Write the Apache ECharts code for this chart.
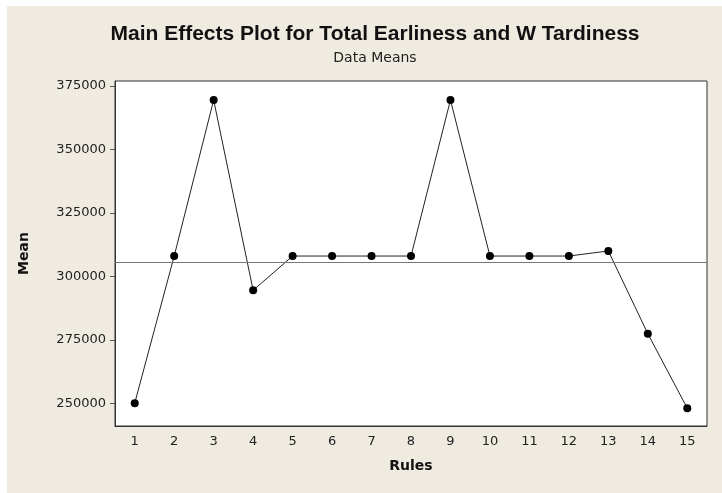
<html>
<head>
<meta charset="utf-8" />
<title>Main Effects Plot</title>
<script type="text/javascript" src="https://cdn.jsdelivr.net/npm/echarts@6/dist/echarts.min.js"></script>
<style>
	html, body {
		margin: 0;
		padding: 0;
		background: #efebe1;
		overflow: hidden;
	}
	#main {
		width: 722px;
		height: 493px;
	}
</style>
</head>
<body>
<div id="main"></div>
<script type="text/javascript">
	// rules 1..15 and their data means
	var rules = ['1', '2', '3', '4', '5', '6', '7', '8', '9', '10', '11', '12', '13', '14', '15'];
	var means = [250000, 308000, 369500, 294500, 308000, 308000, 308000, 308000, 369500, 308000, 308000, 308000, 310000, 277400, 248000];
	var yTicks = [250000, 275000, 300000, 325000, 350000, 375000];

	var chart = echarts.init(document.getElementById('main'));
	var option = {
		backgroundColor: '#efebe1',
		animation: false,
		graphic: [
			{ type: 'rect', left: 0, top: 0, shape: { width: 722, height: 6 }, style: { fill: '#ffffff' } },
			{ type: 'rect', left: 0, top: 0, shape: { width: 7, height: 493 }, style: { fill: '#ffffff' } }
		],
		title: {
			text: 'Main Effects Plot for Total Earliness and W Tardiness',
			subtext: 'Data Means',
			left: 370,
			textAlign: 'center',
			top: 19,
			itemGap: 6,
			textStyle: { fontFamily: 'Liberation Sans', fontWeight: 'bold', fontSize: 21, color: '#111' },
			subtextStyle: { fontFamily: 'DejaVu Sans', fontSize: 14, color: '#222' }
		},
		grid: {
			left: 115,
			right: 15,
			top: 81,
			bottom: 67,
			show: true,
			backgroundColor: '#ffffff',
			borderColor: '#333',
			borderWidth: 1
		},
		xAxis: {
			type: 'category',
			data: rules,
			boundaryGap: true,
			name: 'Rules',
			nameLocation: 'middle',
			nameGap: 33,
			nameTextStyle: { fontFamily: 'DejaVu Sans', fontWeight: 'bold', fontSize: 14, color: '#111' },
			axisLine: { lineStyle: { color: '#333' } },
			axisTick: { alignWithLabel: true, length: 5, lineStyle: { color: '#555' } },
			axisLabel: { fontFamily: 'DejaVu Sans', fontSize: 13, color: '#222', margin: 9 },
			splitLine: { show: false }
		},
		yAxis: {
			type: 'value',
			min: 241000,
			max: 377000,
			name: 'Mean',
			nameLocation: 'middle',
			nameGap: 84,
			nameTextStyle: { fontFamily: 'DejaVu Sans', fontWeight: 'bold', fontSize: 14, color: '#111' },
			axisLine: { show: true, lineStyle: { color: '#333' } },
			axisTick: { show: true, length: 5, customValues: yTicks, lineStyle: { color: '#555' } },
			axisLabel: {
				fontFamily: 'DejaVu Sans', fontSize: 13, color: '#222', margin: 9,
				customValues: yTicks,
				formatter: function (v) { return String(v); }
			},
			splitLine: { show: false }
		},
		series: [{
			type: 'line',
			data: means,
			symbol: 'circle',
			symbolSize: 8,
			itemStyle: { color: '#000' },
			lineStyle: { color: '#222', width: 1 },
			markLine: {
				silent: true,
				symbol: 'none',
				label: { show: false },
				lineStyle: { color: '#777', width: 1, type: 'solid' },
				data: [{ type: 'average' }]
			}
		}]
	};
	chart.setOption(option);
</script>
</body>
</html>
